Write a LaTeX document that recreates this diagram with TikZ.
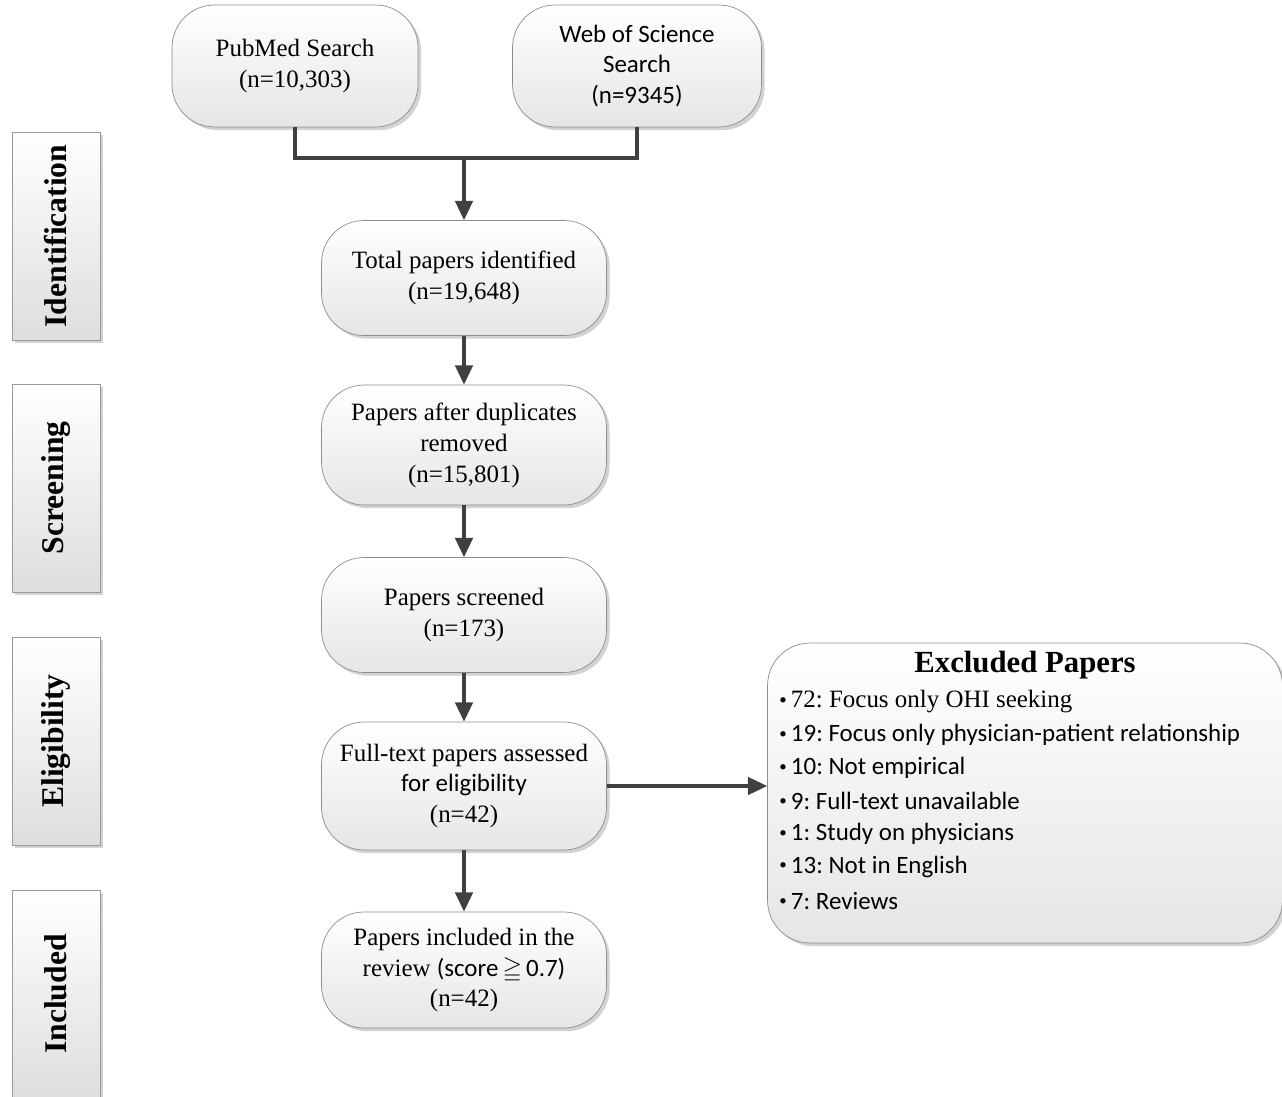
\documentclass[tikz,border=0pt]{standalone}
\usepackage{amssymb}
\usepackage{fontspec}
\setmainfont{Liberation Serif}
\newfontfamily\calib{Carlito}
\usetikzlibrary{arrows.meta}
\usetikzlibrary{shadows}
\newcommand{\smallbullet}{{\calib\raisebox{0.3ex}{\scalebox{0.6}{\textbullet}}}}
\frenchspacing

\begin{document}
\begin{tikzpicture}[
    x=0.02cm, y=-0.02cm,
    >={Triangle[length=11pt,width=10pt]},
    flow box/.style={draw=black!45,rounded corners=0.85cm,top color=white,bottom color=black!10,
        drop shadow={shadow xshift=1.8pt,shadow yshift=-1.8pt,fill=black!35},
        align=center,minimum width=5.7cm,minimum height=2.3cm,font=\fontsize{14.2}{17.6}\selectfont},
    stage box/.style={draw=black!40,rotate=90,minimum width=4.16cm,minimum height=1.76cm,
        top color=white,bottom color=black!13,
        drop shadow={shadow xshift=1.8pt,shadow yshift=-1.8pt,fill=black!35},
        font=\bfseries\fontsize{18}{20}\selectfont},
    item/.style={anchor=west,inner sep=0pt,font=\fontsize{14.2}{17}\selectfont},
    flow link/.style={line width=1.8pt,black!75},
    flow arrow/.style={flow link,->}
    ]
    \useasboundingbox (0,0) rectangle (1282,1097);
    % stages
    \node [stage box] (ident) at (56,236) {Identification};
    \node [stage box] (screen) at (56,488) {Screening};
    \node [stage box] (elig) at (56,741) {Eligibility};
    \node [stage box] (incl) at (56,994) {Included};
    % searches
    \node [flow box,minimum width=4.92cm,minimum height=2.44cm] (pubmed) at (295,66)
        {PubMed Search\\(n=10,303)};
    \node [flow box,minimum width=4.98cm,minimum height=2.44cm,font=\calib\fontsize{14.2}{17.6}\selectfont] (wos) at (637,66)
        {Web of Science\\Search\\(n=9345)};
    % main column
    \node [flow box] (total) at (464,278) {Total papers identified\\(n=19,648)};
    \node [flow box,minimum height=2.4cm] (dup) at (464,445) {Papers after duplicates\\removed\\(n=15,801)};
    \node [flow box] (screened) at (464,615) {Papers screened\\(n=173)};
    \node [flow box,minimum height=2.56cm] (fulltext) at (464,786)
        {Full-text papers assessed\\{\calib for eligibility}\\(n=42)};
    \node [flow box,minimum height=2.32cm] (included) at (464,970)
        {Papers included in the\\review {\calib (score\,$\geqq$\,0.7)}\\(n=42)};
    % excluded
    \node [flow box,minimum width=10.3cm,minimum height=6cm] (excl) at (1025,793) {};
    \node [font=\bfseries\fontsize{17.5}{20}\selectfont] (excltitle) at (1025,665) {Excluded Papers};
    \foreach \y/\txt in {702/{72: Focus only OHI seeking},
        735/{\calib 19: Focus only physician-patient relationship},
        768/{\calib 10: Not empirical},
        801/{\calib 9: Full-text unavailable},
        834/{\calib 1: Study on physicians},
        867/{\calib 13: Not in English},
        901/{\calib 7: Reviews}} {
        \node [item] (ex\y) at (779,\y) {\smallbullet\,\txt};
    }
    % links
    \coordinate (join) at (464,158);
    \draw [flow link] (pubmed.south) |- (join) -| (wos.south);
    \draw [flow arrow] (join) -- (total.north);
    \draw [flow arrow] (total) -- (dup);
    \draw [flow arrow] (dup) -- (screened);
    \draw [flow arrow] (screened) -- (fulltext);
    \draw [flow arrow] (fulltext) -- (included);
    \draw [flow arrow] (fulltext.east) -- (fulltext.east -| excl.west);
\end{tikzpicture}
\end{document}
